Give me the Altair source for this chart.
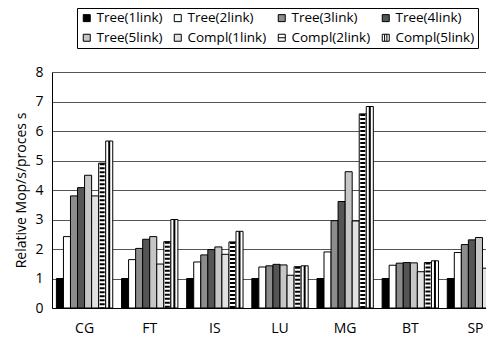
import altair as alt
import pandas as pd

categories = ["CG", "FT", "IS", "LU", "MG", "BT", "SP"]
series = ["Tree(1link)", "Tree(2link)", "Tree(3link)", "Tree(4link)",
          "Tree(5link)", "Compl(1link)", "Compl(2link)", "Compl(5link)"]

tree1 = [1.00, 1.00, 1.00, 1.00, 1.00, 1.00, 1.00]
tree2 = [2.42, 1.64, 1.56, 1.39, 1.90, 1.45, 1.88]
tree3 = [3.80, 2.02, 1.80, 1.43, 2.96, 1.52, 2.15]
tree4 = [4.08, 2.33, 1.98, 1.48, 3.61, 1.54, 2.31]
tree5 = [4.50, 2.42, 2.07, 1.46, 4.62, 1.53, 2.39]
compl1 = [3.80, 1.49, 1.82, 1.11, 2.95, 1.23, 1.35]
compl2 = [4.91, 2.25, 2.24, 1.40, 6.58, 1.54, 2.45]
compl5 = [5.66, 3.00, 2.60, 1.43, 6.83, 1.60, 2.55]

# styles (kept apart from the data)
fill_colors = ["#000000", "#ffffff", "#8c8c8c", "#555555",
               "#c6c6c6", "#e2e2e2", "#ffffff", "#ffffff"]
sq = "M-1,-1H1V1H-1Z"
legend_shapes = [sq, sq, sq, sq, sq, sq,
                 sq + "M-1,0H1",
                 sq + "M-0.33,-1V1M0.33,-1V1"]

values = [tree1, tree2, tree3, tree4, tree5, compl1, compl2, compl5]
rows = []
for s, vals in zip(series, values):
    for c, v in zip(categories, vals):
        rows.append({"bench": c, "series": s, "value": v})
df = pd.DataFrame(rows)

FONT = "Open Sans"

x = alt.X("bench:N", sort=categories,
          scale=alt.Scale(paddingInner=0.135, paddingOuter=0.0675, range=[0, 456]),
          axis=alt.Axis(title=None, labelAngle=0, ticks=False, labelPadding=13,
                        labelFontSize=14, labelColor="black", domainColor="black",
                        grid=False, labelFont=FONT))
xo = alt.XOffset("series:N", sort=series,
                 scale=alt.Scale(domain=series, paddingInner=0, paddingOuter=0))
y = alt.Y("value:Q", scale=alt.Scale(domain=[0, 8]),
          axis=alt.Axis(title="Relative Mop/s/proces s", values=list(range(9)),
                        ticks=False, labelPadding=9, labelFontSize=14,
                        labelColor="black", titleFontSize=14, titleFontWeight="normal",
                        titleColor="black", titlePadding=6, domainColor="black",
                        gridColor="#555555", gridOpacity=1, labelFont=FONT,
                        titleFont=FONT))

legend = alt.Legend(title=None, orient="none", legendX=25, legendY=-64,
                    direction="horizontal", columns=4, strokeColor="black",
                    fillColor="white", padding=3, symbolSize=49,
                    symbolStrokeWidth=1,
                    labelFontSize=13.5, labelFont=FONT, labelColor="black",
                    columnPadding=8, rowPadding=5, labelOffset=3,
                    gridAlign="each", symbolOpacity=1)

fill = alt.Fill("series:N", sort=series,
                scale=alt.Scale(domain=series, range=fill_colors), legend=legend)
shape = alt.Shape("series:N", sort=series,
                  scale=alt.Scale(domain=series, range=legend_shapes), legend=legend)

base = alt.Chart(df)

bars = base.mark_bar(stroke="black", strokeWidth=1).encode(
    x=x, xOffset=xo, y=y, fill=fill)

hstripes = base.transform_filter(alt.datum.series == "Compl(2link)").mark_rule(
    color="black", strokeWidth=5, strokeDash=[2, 2], strokeCap="butt").encode(
    x=x, xOffset=xo, y=y, y2=alt.datum(0))

vline = base.transform_filter(alt.datum.series == "Compl(5link)").mark_rule(
    color="black", strokeWidth=2, strokeCap="butt").encode(
    x=x, xOffset=xo, y=y, y2=alt.datum(0))

keys = base.mark_point(filled=True, opacity=0, stroke="black", strokeWidth=1).encode(
    x=x, xOffset=xo, y=y, fill=fill, shape=shape)

chart = alt.layer(bars, hstripes, vline, keys).properties(
    width=434, height=236,
    autosize=alt.AutoSizeParams(type="none"),
    padding={"left": 44, "top": 64, "right": 0, "bottom": 30},
).configure_view(strokeWidth=0).configure(font=FONT)

chart.save("out.html", embed_options={"renderer": "svg", "actions": False})
